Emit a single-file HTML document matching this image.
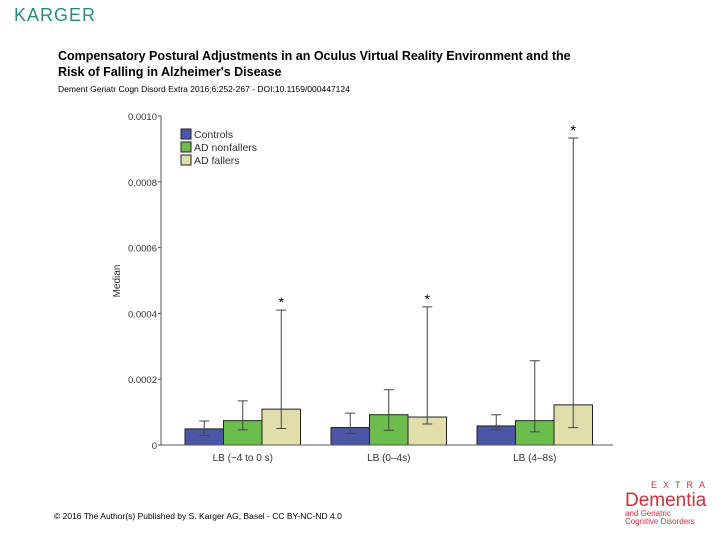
<!DOCTYPE html>
<html><head><meta charset="utf-8"><style>
body{margin:0;width:720px;height:540px;background:#fff;position:relative;overflow:hidden;font-family:"Liberation Sans",sans-serif}
.a{position:absolute;white-space:nowrap}
</style></head><body>
<div class="a" style="left:14px;top:5px;font-size:18px;color:#2a8a80;letter-spacing:1px">KARGER</div>
<div class="a" style="left:58px;top:48px;font-size:12.5px;font-weight:bold;line-height:16px">Compensatory Postural Adjustments in an Oculus Virtual Reality Environment and the<br>Risk of Falling in Alzheimer's Disease</div>
<div class="a" style="left:58px;top:84px;font-size:8.5px">Dement Geriatr Cogn Disord Extra 2016;6:252-267 - DOI:10.1159/000447124</div>
<div class="a" style="left:54px;top:511px;font-size:8.5px">© 2016 The Author(s) Published by S. Karger AG, Basel - CC BY-NC-ND 4.0</div>
<div class="a" style="left:625px;top:481px;color:#c8323c;line-height:1">
<div style="font-size:9px;letter-spacing:6px;margin-left:26px">EXTRA</div>
<div style="font-size:19px;margin-top:1px">Dementia</div>
<div style="font-size:8px">and Geriatric<br>Cognitive Disorders</div></div>
<svg class="a" style="left:0;top:0" width="720" height="540" id="chart"></svg>
<script>
const categories=["LB (\u22124 to 0 s)","LB (0\u20134s)","LB (4\u20138s)"];
const seriesNames=["Controls","AD nonfallers","AD fallers"];
const controls=[0.000049,0.000053,0.000058];
const nonfallers=[0.000074,0.000092,0.000074];
const fallers=[0.000109,0.000085,0.000122];
const errLow=[[0.000029,0.000035,0.000046],[0.000046,0.000045,0.00004],[0.00005,0.000064,0.000053]];
const errHigh=[[0.000073,0.000097,0.000092],[0.000134,0.000168,0.000256],[0.00041,0.00042,0.000933]];
const significant=[[false,false,false],[false,false,false],[true,true,true]];
const yTicks=[0,0.0002,0.0004,0.0006,0.0008,0.0010];
const yTickLabels=["0","0.0002","0.0004","0.0006","0.0008","0.0010"];
const colors=["#4a56a6","#6cbd4e","#e0deaa"];
const NS="http://www.w3.org/2000/svg";
const svg=document.getElementById('chart');
const x0=161,x1=613,yBase=445,yTop=116,yMax=0.001;
const y=v=>yBase-(v/yMax)*(yBase-yTop);
const groupW=146, barW=38.5, firstX=185;
const bx=(g,s)=>firstX+groupW*g+barW*s;
const gc=g=>firstX+groupW*g+barW*1.5;
function el(t,a,txt){const e=document.createElementNS(NS,t);for(const k in a)e.setAttribute(k,a[k]);if(txt!=null)e.textContent=txt;svg.appendChild(e);return e;}
const series=[controls,nonfallers,fallers];
series.forEach((vals,s)=>vals.forEach((v,g)=>{
 const r=el('rect',{x:bx(g,s),y:y(v),width:barW,height:yBase-y(v),fill:colors[s],stroke:'#222','stroke-width':1});
 
 
}));
series.forEach((vals,s)=>vals.forEach((v,g)=>{
 const cx=bx(g,s)+barW/2, lo=y(errLow[s][g]), hi=y(errHigh[s][g]);
 const e=el('path',{d:`M${cx},${lo}V${hi}M${cx-5},${hi}H${cx+5}M${cx-5},${lo}H${cx+5}`,stroke:'#444','stroke-width':1,fill:'none'});
 
 
 if(significant[s][g]){
  const t=el('text',{x:cx,y:hi-3,'text-anchor':'middle','font-size':14,'font-family':'Liberation Sans'},'*');
  
  
 }
}));
const ax=el('path',{d:`M${x0},${yTop}V${yBase}H${x1}`,stroke:'#555',fill:'none','stroke-width':1});


yTicks.forEach((v,i)=>{
 el('line',{x1:x0-3,x2:x0,y1:y(v),y2:y(v),stroke:'#555'});
 const t=el('text',{x:x0-4,y:y(v)+4,'text-anchor':'end','font-size':9.5,fill:'#333'},yTickLabels[i]);
 
 
});
categories.forEach((c,g)=>{
 const cx=gc(g);
 const t=el('text',{x:cx,y:yBase+16,'text-anchor':'middle','font-size':10,fill:'#333'},c);
 
 
});
const yl=el('text',{x:0,y:0,transform:'translate(120,281) rotate(-90)','text-anchor':'middle','font-size':10,fill:'#333'},'Median');


seriesNames.forEach((n,i)=>{
 const r=el('rect',{x:181,y:129+i*13,width:10,height:10,fill:colors[i],stroke:'#222'});
 
 
 const t=el('text',{x:194,y:138+i*13,'font-size':10.5,fill:'#333'},n);
 
 
});
</script>
</body></html>
